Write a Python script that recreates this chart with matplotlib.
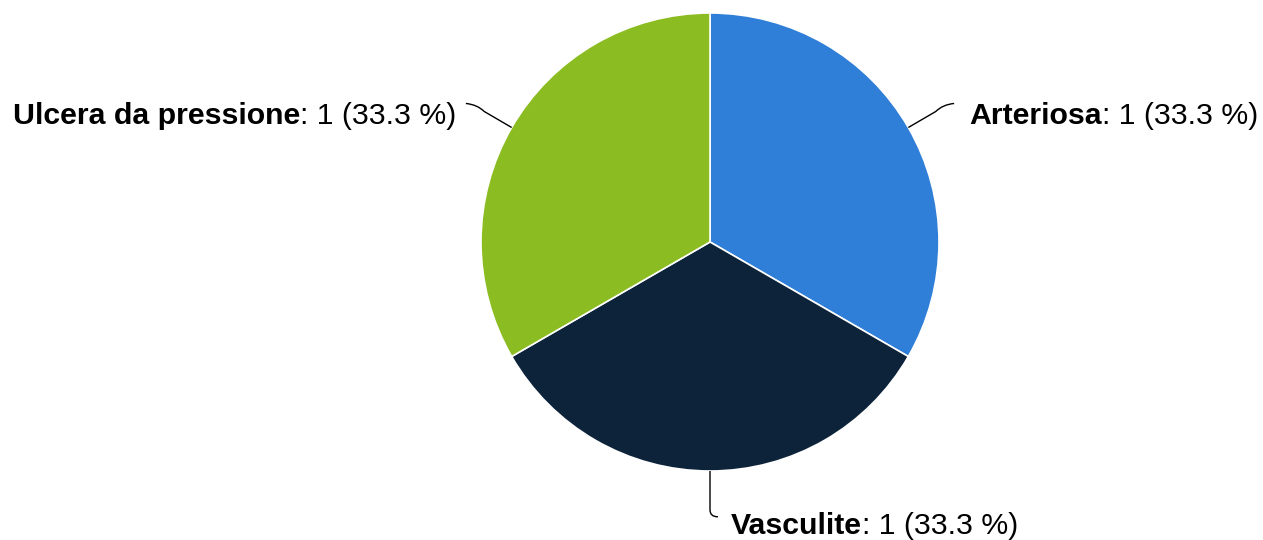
import numpy as np
import matplotlib
matplotlib.use("Agg")
import matplotlib.pyplot as plt
from matplotlib.path import Path
from matplotlib.patches import PathPatch

plt.rcParams['font.family'] = ['Liberation Sans', 'DejaVu Sans']

labels = ['Arteriosa', 'Vasculite', 'Ulcera da pressione']
values = [1, 1, 1]
colors = ['#2F7ED8', '#0D233A', '#8BBC21']

W, H = 1263, 540
fig = plt.figure(figsize=(W / 100, H / 100), dpi=100)

# pie placed in pixel terms: centre and radius
cx, cy, r = 710, 242, 229
ax = fig.add_axes([(cx - r) / W, (H - cy - r) / H, 2 * r / W, 2 * r / H])

wedges, _ = ax.pie(values, colors=colors, startangle=90, counterclock=False, radius=1,
                   wedgeprops=dict(edgecolor='white', linewidth=1.2))
ax.set_xlim(-1, 1)
ax.set_ylim(-1, 1)
ax.set_aspect('equal')
ax.axis('off')

total = sum(values)
fig.canvas.draw()
renderer = fig.canvas.get_renderer()
fs = 21.8

for w, lab, v in zip(wedges, labels, values):
    ang = np.deg2rad((w.theta1 + w.theta2) / 2)
    ex, ey = np.cos(ang), np.sin(ang)
    pct = v / total * 100
    rest = ': {} ({:.1f} %)'.format(v, pct)
    if abs(ex) < 0.2:
        # bottom label: line drops down then hooks right
        p0 = (ex, ey)
        p1 = (ex, ey - 0.17)
        p2 = (ex, ey - 0.2)
        p3 = (ex + 0.035, ey - 0.2)
        tx, ty = ex + 0.092, ey - 0.238
        side = 'left'
    else:
        sgn = np.sign(ex)
        p0 = (ex, ey)
        p1 = (ex + sgn * 0.12, ey + 0.07)
        p2 = (ex + sgn * 0.15, ey + 0.1)
        p3 = (ex + sgn * 0.2, ey + 0.105)
        off = 0.265 if sgn > 0 else 0.24
        tx, ty = ex + sgn * off, ey + 0.052
        side = 'left' if sgn > 0 else 'right'
    path = Path([p0, p1, p2, p3], [Path.MOVETO, Path.LINETO, Path.CURVE3, Path.CURVE3])
    ax.add_patch(PathPatch(path, facecolor='none', edgecolor='black', lw=1.0, clip_on=False))

    if side == 'left':
        t1 = ax.text(tx, ty, lab, fontsize=fs, fontweight='bold', ha='left', va='center', clip_on=False)
        bb = t1.get_window_extent(renderer)
        x1 = ax.transData.inverted().transform((bb.x1, 0))[0]
        ax.text(x1, ty, rest, fontsize=fs, ha='left', va='center', clip_on=False)
    else:
        t2 = ax.text(tx, ty, rest, fontsize=fs, ha='right', va='center', clip_on=False)
        bb = t2.get_window_extent(renderer)
        x0 = ax.transData.inverted().transform((bb.x0, 0))[0]
        ax.text(x0, ty, lab, fontsize=fs, fontweight='bold', ha='right', va='center', clip_on=False)

fig.savefig('out.png', dpi=100)
